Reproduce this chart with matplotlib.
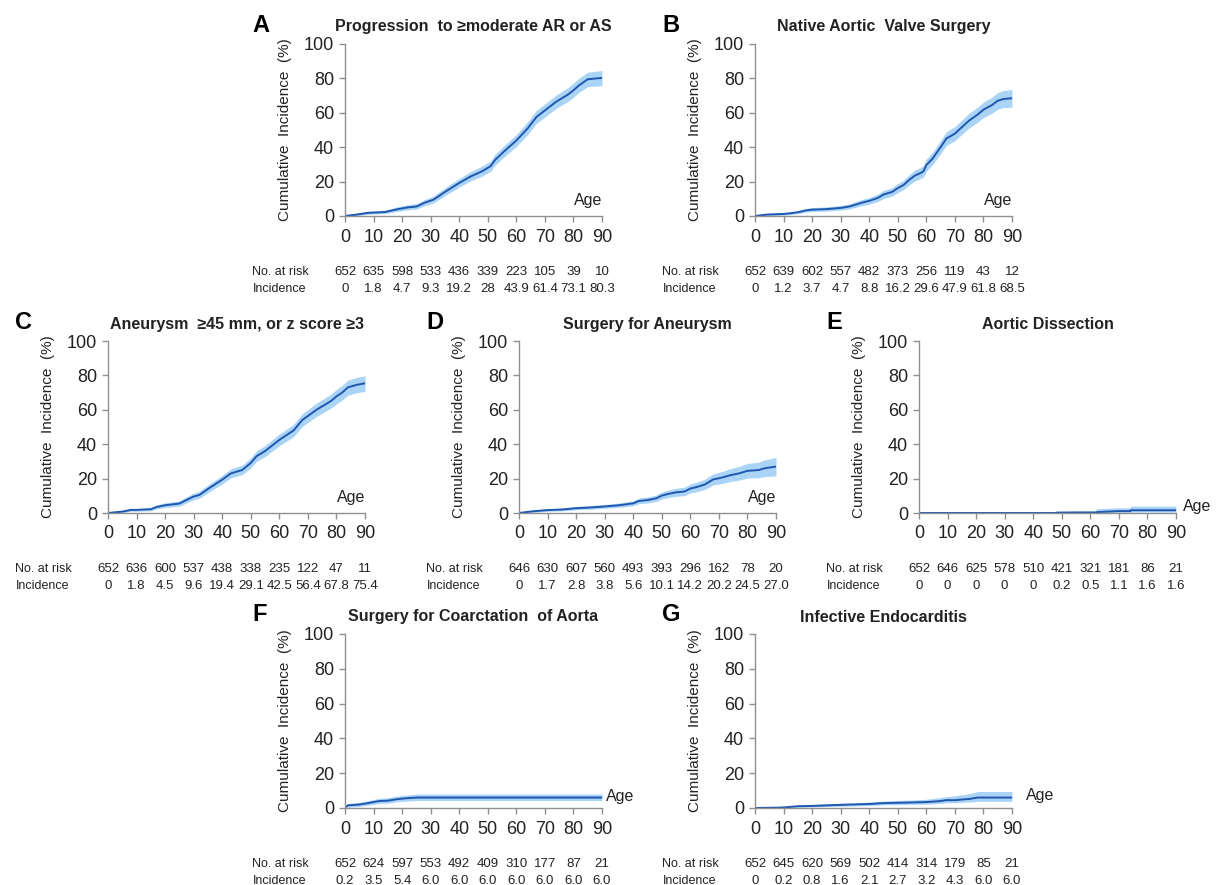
import matplotlib

matplotlib.use("Agg")
import matplotlib.pyplot as plt

plt.rcParams["font.family"] = ["Liberation Sans", "DejaVu Sans"]

# ---- curve data (age, incidence %, lower CI, upper CI) ----
age_a = [0, 4, 8, 14, 18, 22, 25, 28, 31, 35, 40, 44, 48, 51, 52.5, 56, 60, 64, 67, 70, 74, 78, 80, 82, 85, 90]
inc_a = [0, 0.8, 1.8, 2.3, 3.8, 5.0, 5.5, 7.8, 9.5, 14.0, 19.2, 23.0, 26.0, 29.0, 32.5, 38.0, 43.9, 51.0, 57.5, 61.4, 66.5, 70.5, 73.1, 76.0, 79.5, 80.3]
lo_a = [0, 0.2, 1.0, 1.4, 2.6, 3.6, 4.0, 6.0, 7.6, 11.8, 16.8, 20.4, 23.2, 26.0, 29.4, 34.8, 40.4, 47.4, 53.8, 57.6, 62.6, 66.6, 69.0, 72.0, 75.2, 75.8]
hi_a = [0.8, 1.6, 2.8, 3.4, 5.2, 6.6, 7.2, 9.6, 11.6, 16.4, 21.8, 25.8, 29.0, 32.0, 35.8, 41.4, 47.4, 54.8, 61.4, 65.2, 70.4, 74.6, 77.2, 80.2, 83.6, 84.6]

age_b = [0, 4, 10, 12, 15, 18, 20, 25, 30, 33, 36, 38, 40, 43, 45, 48, 50, 52, 54, 56, 58, 59, 60, 62, 65, 67, 70, 73, 75, 78, 80, 83, 85, 87, 90]
inc_b = [0, 0.8, 1.2, 1.5, 2.2, 3.3, 3.7, 4.0, 4.7, 5.5, 7.0, 8.0, 8.8, 10.5, 12.5, 14.0, 16.2, 18.0, 21.0, 23.5, 25.0, 26.0, 29.6, 33.0, 40.0, 45.0, 47.9, 52.5, 55.5, 59.0, 61.8, 64.5, 67.0, 68.0, 68.5]
lo_b = [0, 0.2, 0.5, 0.8, 1.3, 2.3, 2.6, 2.8, 3.4, 4.1, 5.4, 6.2, 6.9, 8.4, 10.2, 11.6, 13.6, 15.3, 18.1, 20.4, 21.8, 22.7, 26.1, 29.4, 36.2, 41.0, 43.8, 48.3, 51.2, 54.6, 57.3, 59.8, 62.1, 63.0, 63.3]
hi_b = [0.6, 1.5, 2.0, 2.3, 3.1, 4.4, 4.9, 5.3, 6.1, 7.0, 8.8, 9.9, 10.8, 12.7, 14.9, 16.5, 18.9, 20.8, 24.0, 26.7, 28.3, 29.4, 33.2, 36.7, 43.9, 49.0, 52.0, 56.7, 59.8, 63.4, 66.3, 69.1, 71.8, 72.9, 73.6]

age_c = [0, 5, 8, 10, 15, 17, 20, 25, 28, 30, 32, 35, 40, 43, 47, 50, 52, 55, 60, 65, 68, 70, 73, 76, 78, 80, 82, 84, 87, 90]
inc_c = [0, 0.8, 1.8, 1.8, 2.2, 3.5, 4.5, 5.5, 8.0, 9.6, 10.5, 14.0, 19.4, 23.0, 25.0, 29.1, 33.0, 36.0, 42.5, 48.0, 54.0, 56.4, 60.0, 63.0, 65.0, 67.8, 70.0, 73.0, 74.5, 75.4]
lo_c = [0, 0.2, 1.0, 1.0, 1.3, 2.4, 3.2, 4.0, 6.2, 7.7, 8.5, 11.8, 16.9, 20.4, 22.3, 26.2, 30.0, 32.8, 39.1, 44.4, 50.3, 52.6, 56.1, 59.0, 60.9, 63.5, 65.6, 68.5, 69.9, 70.7]
hi_c = [0.6, 1.5, 2.6, 2.6, 3.1, 4.7, 5.9, 7.1, 9.8, 11.6, 12.6, 16.3, 21.9, 25.7, 27.8, 32.1, 36.1, 39.3, 45.9, 51.6, 57.7, 60.2, 63.9, 67.0, 69.0, 71.9, 74.2, 77.2, 78.8, 79.8]

age_d = [0, 5, 10, 15, 20, 25, 30, 35, 40, 42, 45, 48, 50, 52, 55, 58, 60, 62, 65, 68, 70, 72, 74, 77, 80, 84, 86, 90]
inc_d = [0, 1.0, 1.7, 2.0, 2.8, 3.2, 3.8, 4.5, 5.6, 7.0, 7.5, 8.5, 10.1, 11.0, 12.0, 12.5, 14.2, 15.0, 16.5, 19.5, 20.2, 21.0, 22.0, 23.0, 24.5, 25.0, 26.0, 27.0]
lo_d = [0, 0.4, 1.0, 1.2, 1.9, 2.2, 2.7, 3.3, 4.2, 5.4, 5.8, 6.7, 8.1, 8.9, 9.7, 10.1, 11.6, 12.3, 13.6, 16.3, 16.9, 17.5, 18.3, 19.1, 20.3, 20.5, 21.2, 21.6]
hi_d = [0.8, 1.7, 2.5, 2.9, 3.8, 4.3, 5.0, 5.8, 7.1, 8.7, 9.3, 10.4, 12.2, 13.2, 14.4, 15.0, 16.9, 17.8, 19.5, 22.8, 23.6, 24.6, 25.8, 27.0, 28.8, 29.6, 30.9, 32.3]

age_e = [0, 48, 48.1, 55, 62, 62.1, 70, 74, 74.1, 90]
inc_e = [0, 0, 0.2, 0.3, 0.3, 0.5, 1.1, 1.1, 1.6, 1.6]
lo_e = [0, 0, 0, 0, 0, 0.1, 0.4, 0.4, 0.6, 0.6]
hi_e = [0, 0, 1.0, 1.2, 1.2, 2.5, 3.0, 3.0, 4.0, 4.0]

age_f = [0, 1, 5, 8, 12, 15, 18, 20, 25, 90]
inc_f = [0.2, 1.5, 2.0, 2.8, 4.0, 4.2, 5.0, 5.4, 6.0, 6.0]
lo_f = [0, 0.5, 0.9, 1.6, 2.6, 2.8, 3.5, 3.8, 4.3, 4.3]
hi_f = [0.8, 2.6, 3.2, 4.2, 5.6, 5.9, 6.8, 7.2, 8.0, 8.0]

age_g = [0, 8, 10, 15, 20, 25, 30, 40, 45, 50, 55, 60, 65, 67, 70, 72, 75, 78, 90]
inc_g = [0, 0.2, 0.3, 1.0, 1.2, 1.5, 1.8, 2.3, 2.8, 3.0, 3.2, 3.4, 4.0, 4.5, 4.5, 4.8, 5.2, 6.0, 6.0]
lo_g = [0, 0, 0.1, 0.5, 0.6, 0.8, 1.0, 1.4, 1.8, 1.9, 2.1, 2.2, 2.6, 3.0, 3.0, 3.2, 3.4, 3.8, 3.8]
hi_g = [0.5, 0.8, 1.0, 1.8, 2.0, 2.4, 2.7, 3.4, 4.0, 4.3, 4.6, 5.0, 6.0, 6.5, 7.0, 7.5, 8.2, 9.5, 9.5]

# ---- risk table (ages 0, 10, ..., 90) ----
table_ages = [0, 10, 20, 30, 40, 50, 60, 70, 80, 90]
risk_a = ["652", "635", "598", "533", "436", "339", "223", "105", "39", "10"]
cum_a = ["0", "1.8", "4.7", "9.3", "19.2", "28", "43.9", "61.4", "73.1", "80.3"]
risk_b = ["652", "639", "602", "557", "482", "373", "256", "119", "43", "12"]
cum_b = ["0", "1.2", "3.7", "4.7", "8.8", "16.2", "29.6", "47.9", "61.8", "68.5"]
risk_c = ["652", "636", "600", "537", "438", "338", "235", "122", "47", "11"]
cum_c = ["0", "1.8", "4.5", "9.6", "19.4", "29.1", "42.5", "56.4", "67.8", "75.4"]
risk_d = ["646", "630", "607", "560", "493", "393", "296", "162", "78", "20"]
cum_d = ["0", "1.7", "2.8", "3.8", "5.6", "10.1", "14.2", "20.2", "24.5", "27.0"]
risk_e = ["652", "646", "625", "578", "510", "421", "321", "181", "86", "21"]
cum_e = ["0", "0", "0", "0", "0", "0.2", "0.5", "1.1", "1.6", "1.6"]
risk_f = ["652", "624", "597", "553", "492", "409", "310", "177", "87", "21"]
cum_f = ["0.2", "3.5", "5.4", "6.0", "6.0", "6.0", "6.0", "6.0", "6.0", "6.0"]
risk_g = ["652", "645", "620", "569", "502", "414", "314", "179", "85", "21"]
cum_g = ["0", "0.2", "0.8", "1.6", "2.1", "2.7", "3.2", "4.3", "6.0", "6.0"]

titles = {
    "A": "Progression  to \u2265moderate AR or AS",
    "B": "Native Aortic  Valve Surgery",
    "C": "Aneurysm  \u226545 mm, or z score \u22653",
    "D": "Surgery for Aneurysm",
    "E": "Aortic Dissection",
    "F": "Surgery for Coarctation  of Aorta",
    "G": "Infective Endocarditis",
}

LINE = "#1f56b0"
BAND = "#aad4f6"
AXIS = "#8f8f8f"
TEXT = "#222222"

W, H = 1217, 885
# panel: (axis left px, axis bottom px, axis height px, data, table, "Age" label pos)
panels = [
    ("A", 345, 216, 172, (age_a, inc_a, lo_a, hi_a), (risk_a, cum_a), (85, 9)),
    ("B", 755, 216, 172, (age_b, inc_b, lo_b, hi_b), (risk_b, cum_b), (85, 9)),
    ("C", 108, 513, 172, (age_c, inc_c, lo_c, hi_c), (risk_c, cum_c), (85, 9)),
    ("D", 519, 513, 172, (age_d, inc_d, lo_d, hi_d), (risk_d, cum_d), (85, 9)),
    ("E", 919, 513, 172, (age_e, inc_e, lo_e, hi_e), (risk_e, cum_e), (97.5, 4)),
    ("F", 345, 808, 174, (age_f, inc_f, lo_f, hi_f), (risk_f, cum_f), (96.5, 6.5)),
    ("G", 755, 808, 174, (age_g, inc_g, lo_g, hi_g), (risk_g, cum_g), (100, 7)),
]
AX_W = 257

fig = plt.figure(figsize=(W / 100, H / 100), dpi=100)

for letter, left, bottom, height, (ages, inc, lo, hi), (risk, cum), age_pos in panels:
    ax = fig.add_axes([left / W, (H - bottom) / H, AX_W / W, height / H])
    ax.fill_between(ages, lo, hi, color=BAND, linewidth=0, zorder=1)
    ax.plot(ages, inc, color=LINE, linewidth=1.4, zorder=2)

    ax.set_xlim(0, 90)
    ax.set_ylim(0, 100)
    ax.set_xticks(range(0, 91, 10))
    ax.set_yticks(range(0, 101, 20))
    for side in ("top", "right"):
        ax.spines[side].set_visible(False)
    for side in ("left", "bottom"):
        ax.spines[side].set_color(AXIS)
        ax.spines[side].set_linewidth(1.0)
    ax.tick_params(axis="both", colors=AXIS, labelcolor=TEXT, labelsize=13, length=4, width=1.0)
    ax.tick_params(axis="x", pad=5)
    ax.tick_params(axis="y", pad=4)

    ax.set_ylabel("Cumulative  Incidence  (%)", fontsize=11, color=TEXT)
    ax.yaxis.set_label_coords(-0.207, 0.5)
    ax.set_title(titles[letter], fontsize=11.5, fontweight="bold", color=TEXT, pad=9)
    ax.text(-0.36, 1.11, letter, transform=ax.transAxes, fontsize=17, fontweight="bold",
            color="black", ha="left", va="center")
    ax.text(age_pos[0], age_pos[1], "Age", fontsize=11.5, color=TEXT, ha="center", va="center")

    # risk table under the axis
    row1 = -56 / height
    row2 = -73 / height
    ax.text(-0.36, row1, "No. at risk", transform=ax.transAxes, fontsize=9, color=TEXT,
            ha="left", va="center")
    ax.text(-0.36, row2, "Incidence", transform=ax.transAxes, fontsize=9, color=TEXT,
            ha="left", va="center")
    xt = ax.get_xaxis_transform()
    for a, r, c in zip(table_ages, risk, cum):
        ax.text(a, row1, r, transform=xt, fontsize=9.5, color=TEXT, ha="center", va="center")
        ax.text(a, row2, c, transform=xt, fontsize=9.5, color=TEXT, ha="center", va="center")

fig.savefig("out.png", dpi=100, facecolor="white")
